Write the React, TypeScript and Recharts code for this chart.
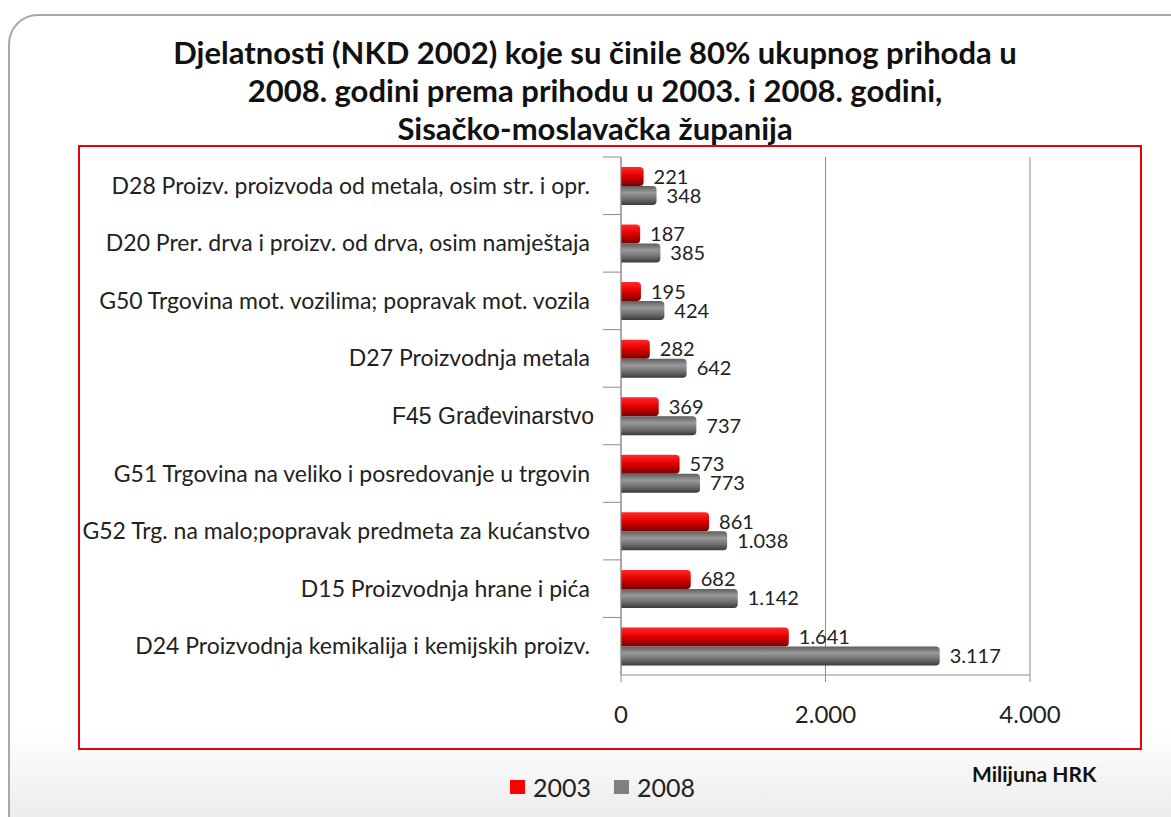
import React from "react";
import { BarChart, Bar, XAxis, YAxis, CartesianGrid, LabelList } from "recharts";

const categories = [
  "D28 Proizv. proizvoda od metala, osim str. i opr.",
  "D20 Prer. drva i proizv. od drva, osim namještaja",
  "G50 Trgovina mot. vozilima; popravak mot. vozila",
  "D27 Proizvodnja metala",
  "F45 Građevinarstvo",
  "G51 Trgovina na veliko i posredovanje u trgovin",
  "G52 Trg. na malo;popravak predmeta za kućanstvo",
  "D15 Proizvodnja hrane i pića",
  "D24 Proizvodnja kemikalija i kemijskih proizv.",
];
const values2003 = [221, 187, 195, 282, 369, 573, 861, 682, 1641];
const values2008 = [348, 385, 424, 642, 737, 773, 1038, 1142, 3117];
const xTicks = [0, 2000, 4000];

const data = categories.map((name, i) => ({
  name,
  y2003: values2003[i],
  y2008: values2008[i],
}));

const fmt = (v: number) => String(v).replace(/\B(?=(\d{3})+(?!\d))/g, ".");

const W = 1171;
const H = 817;
const PLOT_TOP = 157;
const PLOT_BOTTOM = 675;
const band = (PLOT_BOTTOM - PLOT_TOP) / categories.length;
const FONT = "Lato, 'Open Sans', sans-serif";

function CategoryTick(props: any) {
  const { x, y, payload } = props;
  const label: string = payload.value;
  // F45 label is set in a different font in the original
  const odd = label.startsWith("F45");
  return (
    <g>
      <line x1={x + 5} x2={x + 23} y1={y - band / 2} y2={y - band / 2} stroke="#8c8c8c" />
      <text
        x={odd ? x - 4 : x - 8}
        y={y}
        dy="0.35em"
        textAnchor="end"
        fill="#222"
        fontSize={odd ? 23 : 23}
        fontFamily={odd ? "'Liberation Sans', Arial, sans-serif" : FONT}
      >
        {label}
      </text>
    </g>
  );
}

export default function App() {
  return (
    <div style={{ position: "absolute", left: 0, top: 0, width: W, height: H, overflow: "hidden", background: "#fff", fontFamily: FONT }}>
      {/* rounded frame */}
      <div
        style={{
          position: "absolute",
          left: 8,
          top: 14,
          width: 1200,
          height: 830,
          border: "2px solid #a8a8a8",
          borderRadius: 30,
          background: "linear-gradient(to bottom, #ffffff 0%, #ffffff 86%, #e6e6e6 100%)",
        }}
      />

      {/* title */}
      <div
        style={{
          position: "absolute",
          left: 20,
          top: 33,
          width: 1150,
          textAlign: "center",
          fontWeight: 700,
          fontSize: 31,
          lineHeight: "38px",
          color: "#111",
        }}
      >
        Djelatnosti (NKD 2002) koje su činile 80% ukupnog prihoda u
        <br />
        2008. godini prema prihodu u 2003. i 2008. godini,
        <br />
        Sisačko-moslavačka županija
      </div>

      {/* red plot frame */}
      <div
        style={{
          position: "absolute",
          left: 78,
          top: 145,
          width: 1060,
          height: 601,
          border: "2px solid #e8000b",
        }}
      />

      <div style={{ position: "absolute", left: 0, top: 0 }}>
        <BarChart
          width={W}
          height={H}
          data={data}
          layout="vertical"
          margin={{ top: PLOT_TOP, right: W - 1030, bottom: H - PLOT_BOTTOM - 30, left: 81 }}
          barSize={19}
          barGap={0}
        >
          <defs>
            <linearGradient id="red3d" x1="0" y1="0" x2="0" y2="1">
              <stop offset="0%" stopColor="#ff2a2a" />
              <stop offset="45%" stopColor="#e60000" />
              <stop offset="100%" stopColor="#7a0000" />
            </linearGradient>
            <linearGradient id="gray3d" x1="0" y1="0" x2="0" y2="1">
              <stop offset="0%" stopColor="#5e5e5e" />
              <stop offset="35%" stopColor="#9a9a9a" />
              <stop offset="70%" stopColor="#6c6c6c" />
              <stop offset="100%" stopColor="#3a3a3a" />
            </linearGradient>
          </defs>
          <CartesianGrid horizontal={false} stroke="#8c8c8c" />
          <XAxis
            type="number"
            domain={[0, 4000]}
            ticks={xTicks}
            tickFormatter={fmt}
            stroke="#8c8c8c"
            tickSize={7}
            tickMargin={24}
            height={30}
            tick={{ fill: "#222", fontSize: 24, fontFamily: FONT }}
          />
          <YAxis
            type="category"
            dataKey="name"
            width={540}
            stroke="#8c8c8c"
            tickLine={false}
            tickSize={0}
            tickMargin={23}
            interval={0}
            tick={<CategoryTick />}
          />
          <Bar dataKey="y2003" name="2003" fill="url(#red3d)" radius={[0, 4, 4, 0]} isAnimationActive={false}>
            <LabelList dataKey="y2003" position="right" offset={10} formatter={fmt} fill="#222" fontSize={20} fontFamily={FONT} />
          </Bar>
          <Bar dataKey="y2008" name="2008" fill="url(#gray3d)" radius={[0, 4, 4, 0]} isAnimationActive={false}>
            <LabelList dataKey="y2008" position="right" offset={10} formatter={fmt} fill="#222" fontSize={20} fontFamily={FONT} />
          </Bar>
        </BarChart>
      </div>

      {/* legend */}
      <div style={{ position: "absolute", left: 510, top: 772, display: "flex", alignItems: "center", fontSize: 25, color: "#222" }}>
        <span style={{ display: "inline-block", width: 15, height: 14, background: "#ff0000", marginRight: 8 }} />
        <span style={{ marginRight: 23 }}>2003</span>
        <span style={{ display: "inline-block", width: 15, height: 14, background: "#808080", marginRight: 8 }} />
        <span>2008</span>
      </div>

      <div style={{ position: "absolute", left: 972, top: 761, fontSize: 21, fontWeight: 700, color: "#111" }}>
        Milijuna HRK
      </div>
    </div>
  );
}
